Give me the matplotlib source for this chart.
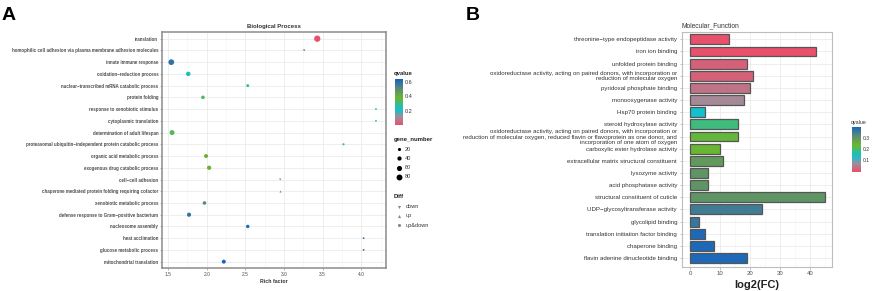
import matplotlib
matplotlib.use("Agg")
import matplotlib.pyplot as plt
import numpy as np
from matplotlib.colors import LinearSegmentedColormap, Normalize
from matplotlib.ticker import MultipleLocator
import matplotlib.cm as cm

plt.rcParams['font.family'] = ['Liberation Sans', 'DejaVu Sans']

W, H = 872, 291

# ---- panel A: GO biological process (bubble plot) ----
bp_terms = [
    "translation",
    "homophilic cell adhesion via plasma membrane adhesion molecules",
    "innate immune response",
    "oxidation\u2212reduction process",
    "nuclear\u2212transcribed mRNA catabolic process",
    "protein folding",
    "response to xenobiotic stimulus",
    "cytoplasmic translation",
    "determination of adult lifespan",
    "proteasomal ubiquitin\u2212independent protein catabolic process",
    "organic acid metabolic process",
    "exogenous drug catabolic process",
    "cell\u2212cell adhesion",
    "chaperone mediated protein folding requiring cofactor",
    "xenobiotic metabolic process",
    "defense response to Gram\u2212positive bacterium",
    "nucleosome assembly",
    "heat acclimation",
    "glucose metabolic process",
    "mitochondrial translation",
]
bp_rich = [3.43, 3.26, 1.54, 1.76, 2.53, 1.95, 4.19, 4.19, 1.55, 3.77,
           1.99, 2.03, 2.95, 2.95, 1.97, 1.77, 2.53, 4.03, 4.03, 2.22]
bp_genes = [90, 12, 75, 45, 18, 28, 5, 5, 55, 8,
            35, 40, 8, 8, 28, 38, 25, 5, 5, 35]
bp_q = [0.0, 0.08, 0.59, 0.25, 0.30, 0.33, 0.28, 0.28, 0.34, 0.30,
        0.40, 0.40, 0.46, 0.45, 0.50, 0.58, 0.62, 0.60, 0.60, 0.63]
bp_diff = ["up&down", "down", "up&down", "up&down", "up&down", "up&down",
           "up&down", "up&down", "up&down", "up&down", "up&down", "up&down",
           "down", "up", "up&down", "up&down", "up&down", "up&down",
           "up&down", "up&down"]

diff_levels = ["down", "up", "up&down"]
diff_markers = {"down": "v", "up": "^", "up&down": "o"}
size_breaks = [20, 40, 60, 80]
bp_q_ticks = [0.2, 0.4, 0.6]

# ---- panel B: molecular function (bar plot) ----
mf_terms = [
    "threonine\u2212type endopeptidase activity",
    "iron ion binding",
    "unfolded protein binding",
    "oxidoreductase activity, acting on paired donors, with incorporation or\nreduction of molecular oxygen",
    "pyridoxal phosphate binding",
    "monooxygenase activity",
    "Hsp70 protein binding",
    "steroid hydroxylase activity",
    "oxidoreductase activity, acting on paired donors, with incorporation or\nreduction of molecular oxygen, reduced flavin or flavoprotein as one donor, and\nincorporation of one atom of oxygen",
    "carboxylic ester hydrolase activity",
    "extracellular matrix structural constituent",
    "lysozyme activity",
    "acid phosphatase activity",
    "structural constituent of cuticle",
    "UDP\u2212glycosyltransferase activity",
    "glycolipid binding",
    "translation initiation factor binding",
    "chaperone binding",
    "flavin adenine dinucleotide binding",
]
mf_fc = [13, 42, 19, 21, 20, 18, 5, 16, 16, 10, 11, 6, 6, 45, 24, 3, 5, 8, 19]
mf_q = [0.0, 0.0, 0.02, 0.02, 0.04, 0.065, 0.14, 0.19, 0.23, 0.235,
        0.29, 0.30, 0.30, 0.30, 0.35, 0.36, 0.39, 0.39, 0.39]
mf_q_ticks = [0.1, 0.2, 0.3]

qcmap = LinearSegmentedColormap.from_list("q", [
    (0.0, "#E8506B"), (0.17, "#A28C9A"), (0.35, "#12C0CE"),
    (0.6, "#6DB62C"), (0.8, "#5A8A78"), (1.0, "#1565C0")])

GRID = "#EBEBEB"
TXT = "#4D4D4D"


def fx(px):
    return px / W


def fy(py):
    return 1 - py / H


def dot_size(n):
    return 0.6 + 0.22 * np.asarray(n, dtype=float)


fig = plt.figure(figsize=(W / 100, H / 100), dpi=100)

# ================= panel A =================
axA = fig.add_axes([fx(162), fy(268), fx(386) - fx(162), fy(32) - fy(268)])
normA = Normalize(0.0, 0.64)
ypos = np.arange(len(bp_terms))
rich = np.array(bp_rich)
genes = np.array(bp_genes)
qa = np.array(bp_q)
for d in diff_levels:
    m = np.array([x == d for x in bp_diff])
    axA.scatter(rich[m], ypos[m], s=dot_size(genes[m]), c=qa[m], cmap=qcmap,
                norm=normA, marker=diff_markers[d], linewidths=0, zorder=3)
axA.set_xlim(1.42, 4.32)
axA.set_ylim(len(bp_terms) - 1 + 0.54, -0.57)
axA.set_yticks(ypos)
axA.set_yticklabels(bp_terms, fontsize=3.27, fontweight="bold", color=TXT)
axA.set_xticks([1.5, 2.0, 2.5, 3.0, 3.5, 4.0])
axA.set_xticklabels(["1.5", "2.0", "2.5", "3.0", "3.5", "4.0"], fontsize=3.5, color=TXT)
axA.xaxis.set_minor_locator(MultipleLocator(0.25))
axA.grid(True, which="major", color=GRID, lw=0.6, zorder=0)
axA.grid(True, which="minor", axis="x", color="#F4F4F4", lw=0.4, zorder=0)
axA.set_axisbelow(True)
axA.tick_params(axis="both", which="major", length=1.5, width=0.4, color="#777777", pad=1.2)
axA.tick_params(axis="x", which="minor", length=0)
for s in axA.spines.values():
    s.set_color("#8C8C8C")
    s.set_linewidth(1.1)
axA.set_xlabel("Rich factor", fontsize=3.8, fontweight="bold", color="#333333", labelpad=1.5)
axA.set_title("Biological Process", fontsize=4.3, fontweight="bold", color="#333333", pad=3)

# colorbar A
caxA = fig.add_axes([fx(395), fy(125), fx(402.7) - fx(395), fy(79.3) - fy(125)])
cbA = fig.colorbar(cm.ScalarMappable(norm=normA, cmap=qcmap), cax=caxA, ticks=bp_q_ticks)
cbA.outline.set_visible(False)
caxA.tick_params(length=0, labelsize=4, pad=1.5, labelcolor="#333333")
fig.text(fx(394), fy(73.5), "qvalue", fontsize=4.3, fontweight="bold", color="#222222", va="center")

# size + Diff legend keys on an overlay axes in pixel units
lax = fig.add_axes([0, 0, 1, 1])
lax.set_xlim(0, W)
lax.set_ylim(H, 0)
lax.axis("off")
lax.patch.set_alpha(0)
fig.text(fx(394), fy(139.5), "gene_number", fontsize=4.3, fontweight="bold", color="#222222", va="center")
for i, v in enumerate(size_breaks):
    yy = 149.3 + i * 9.1
    lax.scatter([398.5], [yy], s=dot_size(v), color="black", linewidths=0)
    fig.text(fx(405), fy(yy), str(v), fontsize=4, color="#333333", va="center")
fig.text(fx(394), fy(196), "Diff", fontsize=4.3, fontweight="bold", color="#222222", va="center")
for i, d in enumerate(diff_levels):
    yy = 206.7 + i * 9.3
    lax.scatter([399], [yy], s=5, color="#888888", marker=diff_markers[d], linewidths=0)
    fig.text(fx(406), fy(yy), d, fontsize=4, color="#333333", va="center")

# ================= panel B =================
axB = fig.add_axes([fx(681.7), fy(266.7), fx(832.3) - fx(681.7), fy(31.7) - fy(266.7)])
normB = Normalize(0.0, 0.4)
yb = np.arange(len(mf_terms))
axB.barh(yb, mf_fc, height=0.82, color=qcmap(normB(np.array(mf_q))),
         edgecolor="#555555", linewidth=0.9, zorder=3)
axB.set_xlim(-2.9, 47.3)
axB.set_ylim(len(mf_terms) - 1 + 0.72, -0.63)
axB.set_yticks(yb)
axB.set_yticklabels(mf_terms, fontsize=4.4, color="#333333", linespacing=1.05)
for lab in axB.get_yticklabels():
    lab.set_multialignment("right")
axB.set_xticks([0, 10, 20, 30, 40])
axB.tick_params(axis="x", labelsize=4.3, labelcolor=TXT)
axB.xaxis.set_minor_locator(MultipleLocator(5))
axB.grid(True, which="major", color=GRID, lw=0.6, zorder=0)
axB.grid(True, which="minor", axis="x", color="#F4F4F4", lw=0.4, zorder=0)
axB.set_axisbelow(True)
axB.tick_params(axis="both", which="major", length=1.8, width=0.4, color="#999999", pad=1.5)
axB.tick_params(axis="x", which="minor", length=0)
for s in axB.spines.values():
    s.set_color("#BDBDBD")
    s.set_linewidth(0.8)
axB.set_xlabel("log2(FC)", fontsize=8, fontweight="bold", color="#222222", labelpad=3)
axB.set_title("Molecular_Function", fontsize=4.8, color="#333333", loc="left", pad=3)

# colorbar B
caxB = fig.add_axes([fx(852.3), fy(171.7), fx(860.7) - fx(852.3), fy(126.7) - fy(171.7)])
cbB = fig.colorbar(cm.ScalarMappable(norm=normB, cmap=qcmap), cax=caxB, ticks=mf_q_ticks)
cbB.outline.set_visible(False)
caxB.tick_params(length=0, labelsize=3.6, pad=1.2, labelcolor="#333333")
fig.text(fx(851), fy(122.5), "qvalue", fontsize=3.8, color="#333333", va="center")

# panel letters
fig.text(fx(2), fy(20), "A", fontsize=14, fontweight="bold", color="black")
fig.text(fx(466), fy(20), "B", fontsize=14, fontweight="bold", color="black")

fig.savefig("out.png", dpi=100)
plt.close()
